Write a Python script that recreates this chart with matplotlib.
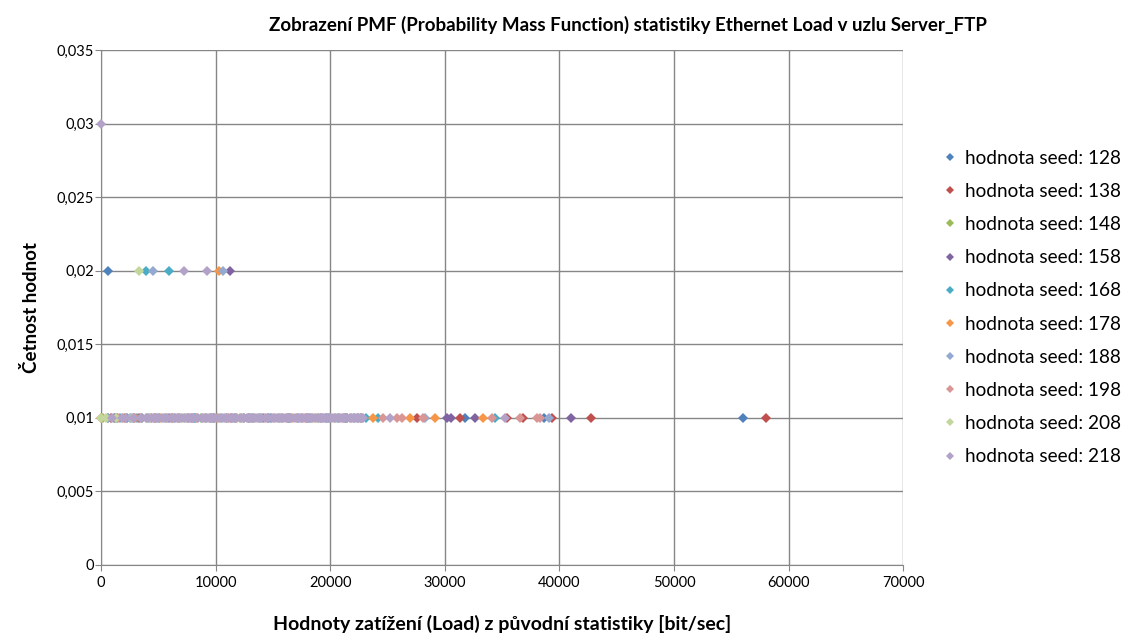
import matplotlib
matplotlib.use('Agg')
import matplotlib.pyplot as plt
from matplotlib.ticker import FixedLocator, FuncFormatter

plt.rcParams['font.family'] = ['Lato', 'DejaVu Sans']

# seeds and colours (Excel 2007 palette)
seeds = [128, 138, 148, 158, 168, 178, 188, 198, 208, 218]
colors = ['#4F81BD', '#C0504D', '#9BBB59', '#8064A2', '#4BACC6',
          '#F79646', '#95A9D0', '#D99694', '#C3D69B', '#B3A2C7']

# load values with frequency 0.01, one list per seed
v128 = [650, 1400, 2300, 3600, 5100, 6800, 8200, 9900, 11700, 13300, 14800,
        16500, 18200, 19900, 21500, 31760, 38660, 56020]
v138 = [900, 2100, 3300, 4700, 6200, 7900, 9600, 11300, 12900, 14600, 16300,
        18000, 19600, 21300, 22700, 27570, 31330, 35430, 36820, 39350, 42760,
        58030]
v148 = [150, 1100, 2600, 4000, 5500, 7100, 8700, 10400, 12100, 13800, 15400,
        17100, 18800, 20400, 22100]
v158 = [1200, 2900, 4400, 5900, 7600, 9200, 10900, 12500, 14100, 15800, 17500,
        19200, 20800, 22400, 30190, 30540, 32640, 41010]
v168 = [1700, 3100, 4900, 6500, 8100, 9800, 11500, 13100, 14700, 16400, 18100,
        19700, 21400, 23100, 24170, 34380]
v178 = [0, 1900, 3500, 5200, 6700, 8400, 10100, 11800, 13400, 15100, 16700,
        18400, 20100, 21800, 23730, 26960, 29150, 33330]
v188 = [600, 2500, 4100, 5700, 7300, 8900, 10600, 12300, 13900, 15500, 17200,
        18900, 20600, 22200, 28270, 39090]
v198 = [1500, 3000, 4600, 6300, 7800, 9500, 11100, 12800, 14400, 16100, 17800,
        19400, 21100, 22800, 24610, 25830, 26270, 28100, 34120, 36560, 38050,
        38300]
v208 = [0, 450, 1300, 2700, 4300, 5800, 7400, 9100, 10800, 12400, 14000,
        15700, 17400, 19000, 20700, 22300]
v218 = [1000, 1800, 2200, 2800, 3450, 3950, 4200, 4500, 4800, 5050, 5300,
        5550, 5800, 6100, 6350, 6600, 6800, 7000, 7250, 7500, 7750, 8000,
        8250, 8500, 8800, 9050, 9300, 9500, 9700, 9950, 10200, 10450, 10700,
        11000, 11200, 11400, 11650, 11900, 12200, 12450, 12700, 12900, 13100,
        13350, 13600, 13800, 14000, 14300, 14600, 14900, 15100, 15300, 15500,
        15700, 15950, 16200, 16400, 16600, 16800, 17000, 17200, 17400, 17650,
        17900, 18100, 18300, 18500, 18700, 18900, 19100, 19300, 19500, 19750,
        20000, 20200, 20400, 20650, 20900, 21100, 21300, 21500, 21700, 21900,
        22100, 22300, 22500, 22700, 22900, 25220, 35250]
values_001 = [v128, v138, v148, v158, v168, v178, v188, v198, v208, v218]

# load values with frequency 0.02 and 0.03
values_002 = {128: [610], 158: [11250], 168: [3900, 5900], 178: [10300],
              188: [4550, 10650], 208: [3300], 218: [7200, 9250]}
values_003 = {218: [0]}

fig = plt.figure(figsize=(11.26, 6.41), dpi=100)
ax = fig.add_axes([0.0897, 0.1186, 0.7125, 0.8034])

for seed, col, vals in zip(seeds, colors, values_001):
    xs = list(vals) + values_002.get(seed, []) + values_003.get(seed, [])
    ys = ([0.01] * len(vals) + [0.02] * len(values_002.get(seed, []))
          + [0.03] * len(values_003.get(seed, [])))
    ax.plot(xs, ys, linestyle='none', marker='D', markersize=4.6,
            color=col, markeredgewidth=0, label='hodnota seed: %d' % seed,
            zorder=3, clip_on=False)

ax.set_xlim(0, 70000)
ax.set_ylim(0, 0.035)
ax.xaxis.set_major_locator(FixedLocator(range(0, 70001, 10000)))
ax.yaxis.set_major_locator(FixedLocator([i * 0.005 for i in range(8)]))
ax.yaxis.set_major_formatter(FuncFormatter(
    lambda v, p: '0' if v == 0 else ('%g' % round(v, 3)).replace('.', ',')))
ax.xaxis.set_major_formatter(FuncFormatter(lambda v, p: '%d' % v))
ax.grid(color='#868686', linewidth=1)
ax.set_axisbelow(True)
for s in ['top', 'right']:
    ax.spines[s].set_visible(False)
for s in ['left', 'bottom']:
    ax.spines[s].set_color('#868686')
ax.tick_params(length=4, color='#868686', labelsize=10.5, pad=4)
ax.tick_params(axis='y', pad=1)

ax.set_title('Zobrazení PMF (Probability Mass Function) statistiky Ethernet Load v uzlu Server_FTP',
             fontsize=13.5, fontweight='bold', x=0.657, pad=14)
ax.set_xlabel('Hodnoty zatížení (Load) z původní statistiky [bit/sec]',
              fontsize=14, fontweight='bold', labelpad=18)
ax.set_ylabel('Četnost hodnot', fontsize=13.5, fontweight='bold', labelpad=12)

leg = ax.legend(loc='center left', bbox_to_anchor=(1.03, 0.5), frameon=False,
                fontsize=13.7, markerscale=0.8, handlelength=0.6,
                handletextpad=0.5, labelspacing=0.85)

fig.savefig('out.png', dpi=100)
